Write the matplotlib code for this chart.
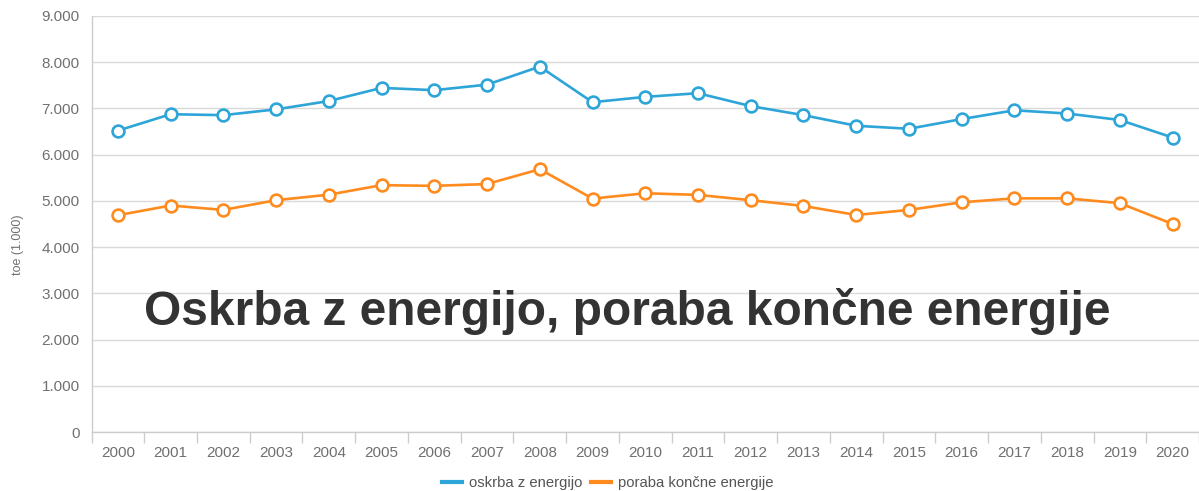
import matplotlib.pyplot as plt
import numpy as np

plt.rcParams['font.family'] = ['Liberation Sans', 'DejaVu Sans']

years = [str(y) for y in range(2000, 2021)]
oskrba = [6520, 6875, 6855, 6980, 7160, 7445, 7395, 7515, 7905, 7135,
          7250, 7330, 7050, 6855, 6625, 6560, 6770, 6960, 6890, 6750, 6370]
poraba = [4690, 4900, 4805, 5015, 5135, 5340, 5325, 5365, 5685, 5050,
          5165, 5130, 5015, 4890, 4695, 4805, 4970, 5055, 5055, 4950, 4500]
yticks = list(range(0, 9001, 1000))
ytick_labels = ['0', '1.000', '2.000', '3.000', '4.000', '5.000',
                '6.000', '7.000', '8.000', '9.000']

blue = '#2ea5d8'
orange = '#ff8b1e'
grid_col = '#d9d9d9'
text_col = '#707070'

W, H = 1199, 491
fig = plt.figure(figsize=(W / 100, H / 100), dpi=100)
ax = fig.add_axes([91.5 / W, (H - 432) / H, (W - 91.5) / W, (432 - 16) / H])

x = np.arange(len(years))
ax.plot(x, oskrba, color=blue, lw=1.9, marker='o', ms=8.5, mfc='white',
        mec=blue, mew=1.9, label='oskrba z energijo', zorder=3)
ax.plot(x, poraba, color=orange, lw=1.9, marker='o', ms=8.5, mfc='white',
        mec=orange, mew=1.9, label='poraba končne energije', zorder=3)

ax.set_xlim(-0.5, 20 + (W - 1178) / 53)
ax.set_ylim(0, 9000)
ax.set_yticks(yticks)
ax.set_yticklabels(ytick_labels)
ax.set_xticks(x)
ax.set_xticklabels(years)
ax.set_xticks(np.arange(-0.5, 21, 1), minor=True)
ax.tick_params(axis='x', which='major', length=0, pad=10, labelsize=11, labelcolor=text_col)
ax.tick_params(axis='x', which='minor', length=8, width=1, color='#cccccc')
ax.tick_params(axis='y', length=0, pad=8.5, labelsize=11, labelcolor=text_col)
ax.grid(axis='y', color=grid_col, lw=1)
ax.set_axisbelow(True)
for s in ['top', 'right']:
    ax.spines[s].set_visible(False)
ax.spines['left'].set_color('#cccccc')
ax.spines['bottom'].set_color('#cccccc')
ax.spines['left'].set_linewidth(1)
ax.spines['bottom'].set_linewidth(1)

fig.text(18 / W, 1 - 245 / H, 'toe (1.000)', rotation=90, ha='center', va='center',
         fontsize=9, color=text_col)

fig.text(627 / W, 1 - 325 / H, 'Oskrba z energijo, poraba končne energije',
         ha='center', va='baseline', fontsize=34.5, fontweight='bold', color='#333333')

leg_handles = [plt.Line2D([], [], color=blue, lw=3), plt.Line2D([], [], color=orange, lw=3)]
labels = ['oskrba z energijo', 'poraba končne energije']
fig.legend(leg_handles, labels, loc='center', bbox_to_anchor=(608 / W, 1 - 483 / H),
           ncol=2, frameon=False, fontsize=10.7, handlelength=1.3, handletextpad=0.5,
           columnspacing=0.6, labelcolor='#555555')

fig.savefig('out.png', dpi=100)
